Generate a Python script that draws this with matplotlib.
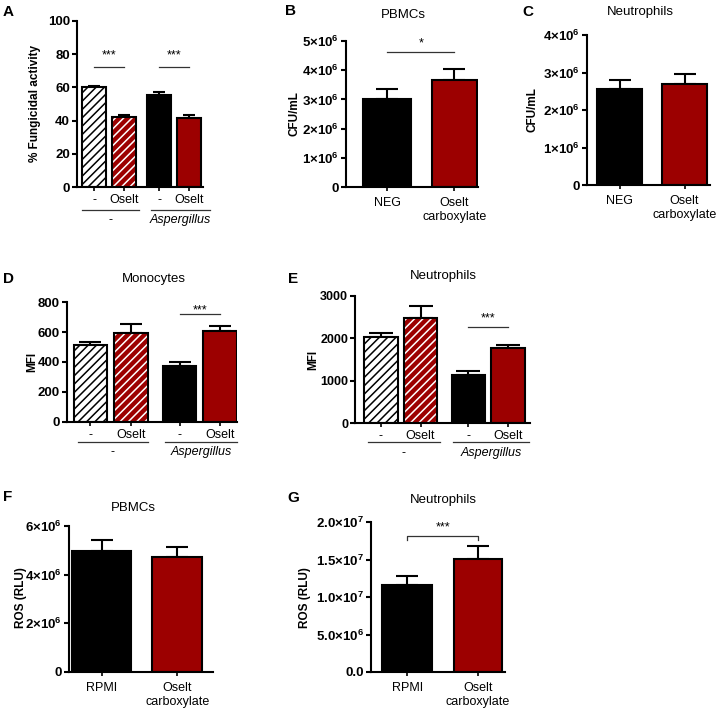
import matplotlib
matplotlib.use('Agg')
import matplotlib.pyplot as plt
import numpy as np

plt.rcParams['font.family'] = ['Liberation Sans', 'DejaVu Sans']
plt.rcParams['mathtext.fontset'] = 'custom'
plt.rcParams['mathtext.rm'] = 'Liberation Sans'
plt.rcParams['mathtext.bf'] = 'Liberation Sans:bold'
plt.rcParams['mathtext.it'] = 'Liberation Sans:italic'
plt.rcParams['hatch.linewidth'] = 1.1

W, H = 722, 714
fig = plt.figure(figsize=(W / 100, H / 100), dpi=100)
RED = '#9c0000'
YT_FS = 9.5
XT_FS = 9
TITLE_FS = 9.5
YL_FS = 8.5
LET_FS = 11

# ---------------- data ----------------
A_ticks = ['-', 'Oselt', '-', 'Oselt']
A_groups = ['-', 'Aspergillus']
A_vals = [60.0, 42.0, 55.5, 41.5]
A_err = [1.0, 1.2, 2.0, 1.6]

B_cats = ['NEG', 'Oselt\ncarboxylate']
B_vals = [3.0e6, 3.68e6]
B_err = [0.36e6, 0.37e6]

C_cats = ['NEG', 'Oselt\ncarboxylate']
C_vals = [2.56e6, 2.69e6]
C_err = [0.25e6, 0.27e6]

D_ticks = ['-', 'Oselt', '-', 'Oselt']
D_groups = ['-', 'Aspergillus']
D_vals = [515, 596, 371, 607]
D_err = [17, 55, 31, 35]

E_ticks = ['-', 'Oselt', '-', 'Oselt']
E_groups = ['-', 'Aspergillus']
E_vals = [2021, 2479, 1137, 1761]
E_err = [95, 284, 87, 78]

F_cats = ['RPMI', 'Oselt\ncarboxylate']
F_vals = [4.96e6, 4.72e6]
F_err = [0.46e6, 0.43e6]

G_cats = ['RPMI', 'Oselt\ncarboxylate']
G_vals = [1.16e7, 1.505e7]
G_err = [0.12e7, 0.17e7]


def sci(m, e):
    return r'$\mathbf{%s×10^{%d}}$' % (m, e)


B_yt = [0, 1e6, 2e6, 3e6, 4e6, 5e6]
B_ytl = ['0'] + [sci(i, 6) for i in range(1, 6)]
C_yt = [0, 1e6, 2e6, 3e6, 4e6]
C_ytl = ['0'] + [sci(i, 6) for i in range(1, 5)]
F_yt = [0, 2e6, 4e6, 6e6]
F_ytl = ['0'] + [sci(i, 6) for i in (2, 4, 6)]
G_yt = [0, 5e6, 1e7, 1.5e7, 2e7]
G_ytl = ['0.0', sci('5.0', 6), sci('1.0', 7), sci('1.5', 7), sci('2.0', 7)]


def make_ax(box, ylim, yticks, yticklabels, xlim, yfs=YT_FS):
    l, t, r, b = box
    ax = fig.add_axes([l / W, 1 - b / H, (r - l) / W, (b - t) / H])
    ax.spines[['top', 'right']].set_visible(False)
    for s in ['left', 'bottom']:
        ax.spines[s].set_linewidth(1.5)
    ax.set_ylim(*ylim)
    ax.set_xlim(*xlim)
    ax.set_yticks(yticks)
    ax.set_yticklabels(yticklabels, fontweight='bold', fontsize=yfs)
    ax.tick_params(axis='y', length=3.5, width=1.5, pad=1.5)
    ax.tick_params(axis='x', length=3, width=1.2, pad=2, labelsize=XT_FS)
    return ax


def draw_bars(ax, pos, vals, errs, width, faces, hatches, hcolors, capsize):
    for p, v, e, w, fc, hh, hc in zip(pos, vals, errs, width, faces, hatches, hcolors):
        ax.errorbar([p], [v], yerr=[[0], [e]], fmt='none', ecolor='black',
                    elinewidth=1.5, capsize=capsize, capthick=1.5, zorder=1)
        if hh:
            ax.bar([p], [v], w, color=fc, edgecolor=hc, hatch=hh, linewidth=0, zorder=2)
            ax.bar([p], [v], w, fill=False, edgecolor='black', linewidth=1.5, zorder=3)
        else:
            ax.bar([p], [v], w, color=fc, edgecolor='black', linewidth=1.5, zorder=2)


def sig(ax, x0, x1, y, ytxt, txt, bracket=None):
    if bracket is None:
        ax.plot([x0, x1], [y, y], color='#333333', lw=0.9, zorder=4)
    else:
        ax.plot([x0, x0, x1, x1], [bracket, y, y, bracket], color='#333333', lw=0.9, zorder=4)
    ax.text((x0 + x1) / 2, ytxt, txt, ha='center', va='center', fontsize=9)


def groups(ax, spans, labels, hpx, line_dy, lab_dy, italic):
    tr = ax.get_xaxis_transform()
    for (x0, x1), lab, it in zip(spans, labels, italic):
        ax.plot([x0, x1], [-line_dy / hpx] * 2, transform=tr, clip_on=False,
                color='#333333', lw=0.9)
        ax.text((x0 + x1) / 2, -lab_dy / hpx, lab, transform=tr, ha='center', va='center',
                fontsize=XT_FS, style='italic' if it else 'normal')


def ftext(x, y, s, **kw):
    fig.text(x / W, 1 - y / H, s, **kw)


four_faces = ['white', RED, 'black', RED]
four_hatch = ['////', '////', None, None]
four_hc = ['black', 'white', None, None]
two_faces = ['black', RED]
two_hatch = [None, None]
two_hc = [None, None]

# ---------------- Panel A ----------------
posA = [0, 1, 2.17, 3.17]
axA = make_ax((77, 21, 203, 187), (0, 100), [0, 20, 40, 60, 80, 100],
              ['0', '20', '40', '60', '80', '100'], (-0.57, 3.63))
draw_bars(axA, posA, A_vals, A_err, [0.8] * 4, four_faces, four_hatch, four_hc, 4.5)
axA.set_xticks(posA)
axA.set_xticklabels(A_ticks)
sig(axA, posA[0], posA[1], 72, 79, '***')
sig(axA, posA[2], posA[3], 72, 79, '***')
groups(axA, [(-0.4, 1.5), (1.9, 3.87)], A_groups, 166, 23, 33, [False, True])
ftext(35, 104, '% Fungicidal activity', rotation=90, ha='center', va='center',
      fontweight='bold', fontsize=YL_FS)
ftext(8, 12, 'A', ha='center', va='center', fontweight='bold', fontsize=LET_FS)

# ---------------- Panel B ----------------
posB = [0, 1]
axB = make_ax((346, 41, 478, 187), (0, 5e6), B_yt, B_ytl, (-0.61, 1.35))
draw_bars(axB, posB, B_vals, B_err, [0.71, 0.67], two_faces, two_hatch, two_hc, 8)
axB.set_xticks(posB)
axB.set_xticklabels(B_cats)
axB.tick_params(axis='x', pad=4)
sig(axB, posB[0], posB[1], 4.62e6, 4.9e6, '*')
ftext(295, 114, 'CFU/mL', rotation=90, ha='center', va='center', fontweight='bold', fontsize=YL_FS)
ftext(403, 15, 'PBMCs', ha='center', va='center', fontsize=TITLE_FS)
ftext(290, 11, 'B', ha='center', va='center', fontweight='bold', fontsize=LET_FS)

# ---------------- Panel C ----------------
posC = [0, 1]
axC = make_ax((587, 35, 710, 185), (0, 4e6), C_yt, C_ytl, (-0.5, 1.39))
draw_bars(axC, posC, C_vals, C_err, [0.69, 0.69], two_faces, two_hatch, two_hc, 8)
axC.set_xticks(posC)
axC.set_xticklabels(C_cats)
axC.tick_params(axis='x', pad=4)
ftext(532, 110, 'CFU/mL', rotation=90, ha='center', va='center', fontweight='bold', fontsize=YL_FS)
ftext(640, 12, 'Neutrophils', ha='center', va='center', fontsize=TITLE_FS)
ftext(528, 12, 'C', ha='center', va='center', fontweight='bold', fontsize=LET_FS)

# ---------------- Panel D ----------------
posD = [0, 1, 2.2, 3.2]
axD = make_ax((67, 302, 237, 422), (0, 800), [0, 200, 400, 600, 800],
              ['0', '200', '400', '600', '800'], (-0.58, 3.62))
draw_bars(axD, posD, D_vals, D_err, [0.82] * 4, four_faces, four_hatch, four_hc, 8)
axD.set_xticks(posD)
axD.set_xticklabels(D_ticks)
sig(axD, posD[2], posD[3], 718, 745, '***')
groups(axD, [(-0.32, 1.43), (1.85, 3.62)], D_groups, 120, 20, 30, [False, True])
ftext(32, 362, 'MFI', rotation=90, ha='center', va='center', fontweight='bold', fontsize=YL_FS)
ftext(154, 279, 'Monocytes', ha='center', va='center', fontsize=TITLE_FS)
ftext(8, 279, 'D', ha='center', va='center', fontweight='bold', fontsize=LET_FS)

# ---------------- Panel E ----------------
posE = [0, 1, 2.2, 3.2]
axE = make_ax((355, 296, 530, 423), (0, 3000), [0, 1000, 2000, 3000],
              ['0', '1000', '2000', '3000'], (-0.65, 3.75), yfs=9)
draw_bars(axE, posE, E_vals, E_err, [0.84] * 4, four_faces, four_hatch, four_hc, 8.5)
axE.set_xticks(posE)
axE.set_xticklabels(E_ticks)
sig(axE, posE[2], posE[3], 2258, 2470, '***')
groups(axE, [(-0.32, 1.48), (1.82, 3.72)], E_groups, 127, 19, 30, [False, True])
ftext(313, 360, 'MFI', rotation=90, ha='center', va='center', fontweight='bold', fontsize=YL_FS)
ftext(443, 276, 'Neutrophils', ha='center', va='center', fontsize=TITLE_FS)
ftext(293, 279, 'E', ha='center', va='center', fontweight='bold', fontsize=LET_FS)

# ---------------- Panel F ----------------
posF = [0, 1]
axF = make_ax((69, 526, 213, 672), (0, 6e6), F_yt, F_ytl, (-0.43, 1.47))
draw_bars(axF, posF, F_vals, F_err, [0.77, 0.66], two_faces, two_hatch, two_hc, 8)
axF.set_xticks(posF)
axF.set_xticklabels(F_cats)
axF.tick_params(axis='x', pad=4)
ftext(21, 598, 'ROS (RLU)', rotation=90, ha='center', va='center', fontweight='bold', fontsize=YL_FS)
ftext(133, 508, 'PBMCs', ha='center', va='center', fontsize=TITLE_FS)
ftext(8, 497, 'F', ha='center', va='center', fontweight='bold', fontsize=LET_FS)

# ---------------- Panel G ----------------
posG = [0, 1]
axG = make_ax((371, 522, 505, 672), (0, 2e7), G_yt, G_ytl, (-0.51, 1.38))
draw_bars(axG, posG, G_vals, G_err, [0.7, 0.68], two_faces, two_hatch, two_hc, 8)
axG.set_xticks(posG)
axG.set_xticklabels(G_cats)
axG.tick_params(axis='x', pad=4)
sig(axG, posG[0], posG[1], 1.813e7, 1.93e7, '***', bracket=1.755e7)
ftext(305, 598, 'ROS (RLU)', rotation=90, ha='center', va='center', fontweight='bold', fontsize=YL_FS)
ftext(443, 500, 'Neutrophils', ha='center', va='center', fontsize=TITLE_FS)
ftext(293, 498, 'G', ha='center', va='center', fontweight='bold', fontsize=LET_FS)

fig.savefig('out.png', dpi=100)
